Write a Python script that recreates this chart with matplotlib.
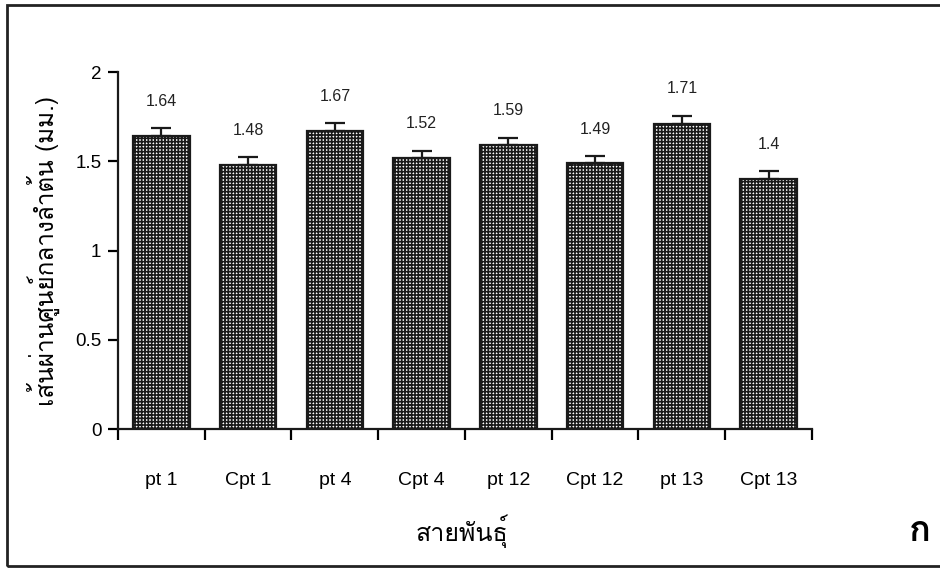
import matplotlib
matplotlib.use('Agg')
import matplotlib.pyplot as plt
from matplotlib import font_manager
from matplotlib.ft2font import FT2Font
from matplotlib.patches import Rectangle
import numpy as np

# data
strains = ['pt 1', 'Cpt 1', 'pt 4', 'Cpt 4', 'pt 12', 'Cpt 12', 'pt 13', 'Cpt 13']
diameter = [1.64, 1.48, 1.67, 1.52, 1.59, 1.49, 1.71, 1.40]
errors = [0.045, 0.044, 0.045, 0.04, 0.042, 0.04, 0.045, 0.045]
value_labels = ['1.64', '1.48', '1.67', '1.52', '1.59', '1.49', '1.71', '1.4']

ylabel = 'เส้นผ่านศูนย์กลางลำต้น (มม.)'
xlabel = 'สายพันธุ์'
panel = 'ก'


def find_thai_font():
    # look for any installed font that has Thai glyphs
    for f in font_manager.fontManager.ttflist:
        try:
            if 0x0E01 in FT2Font(f.fname).get_charmap():
                return f.name
        except Exception:
            pass
    return None


thai = find_thai_font()
base = 'Liberation Sans'
thai_family = [thai, base] if thai else [base, 'DejaVu Sans']

plt.rcParams['font.family'] = [base, 'DejaVu Sans']
plt.rcParams['hatch.linewidth'] = 1.2
plt.rcParams['hatch.color'] = '#262626'

fig = plt.figure(figsize=(9.4, 5.68), dpi=100)
ax = fig.add_axes([0.1255, 0.2447, 0.7383, 0.6285])

x = np.arange(len(strains))
ax.bar(x, diameter, width=0.65, color='white', edgecolor='#1a1a1a',
       linewidth=1.6, hatch='+++++', zorder=2)
ax.errorbar(x, diameter, yerr=[np.zeros(len(errors)), errors], fmt='none',
            ecolor='#1a1a1a', elinewidth=1.6, capsize=7, capthick=1.6, zorder=3)

for xi, v, e, lab in zip(x, diameter, errors, value_labels):
    ax.text(xi, v + e + 0.15, lab, ha='center', va='center', fontsize=11.5, color='#222')

ax.set_xlim(-0.5, len(strains) - 0.5)
ax.set_ylim(0, 2)
ax.set_yticks([0, 0.5, 1, 1.5, 2])
ax.set_yticklabels(['0', '0.5', '1', '1.5', '2'], fontsize=13.5)
ax.set_xticks(x)
ax.set_xticklabels(strains, fontsize=14)
ax.tick_params(axis='x', length=0, pad=31)
ax.set_xticks(np.arange(len(strains) + 1) - 0.5, minor=True)
ax.tick_params(axis='x', which='minor', length=8, width=1.6, direction='out')
ax.tick_params(axis='y', length=7, width=1.6, direction='out', pad=5)

for s in ['top', 'right']:
    ax.spines[s].set_visible(False)
for s in ['left', 'bottom']:
    ax.spines[s].set_linewidth(1.6)
    ax.spines[s].set_color('#1a1a1a')

ax.set_ylabel(ylabel, fontsize=17.5, family=thai_family)
ax.yaxis.set_label_coords(-0.084, 0.5)
fig.text(0.491, 0.065, xlabel, ha='center', va='center', fontsize=18, family=thai_family)
fig.text(0.979, 0.063, panel, ha='center', va='center', fontsize=26,
         fontweight='bold', family=thai_family)

# outer frame
fig.patches.append(Rectangle((0.0075, 0.004), 1.1, 0.987, transform=fig.transFigure,
                             fill=False, edgecolor='#222', linewidth=2.0))

fig.savefig('out.png', dpi=100)
